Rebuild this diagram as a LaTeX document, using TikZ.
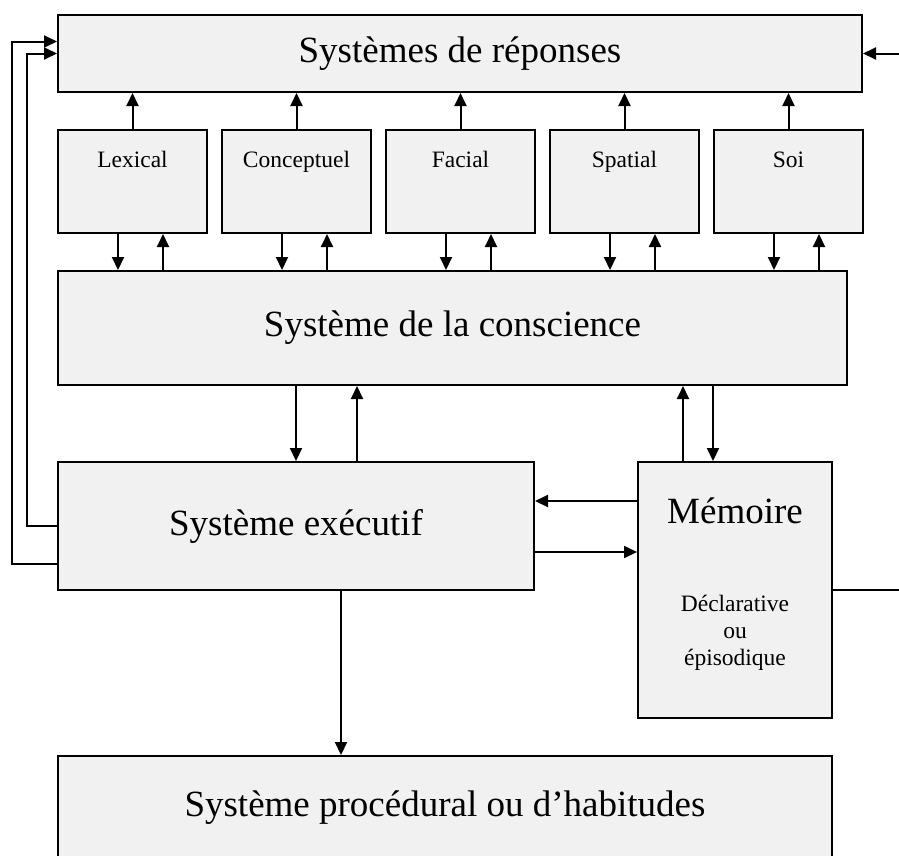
\documentclass[tikz,border=0pt]{standalone}
\usepackage{fontspec}
\setmainfont{Liberation Serif}
\usetikzlibrary{arrows.meta,positioning}

\definecolor{boxgray}{HTML}{F1F1F1}
\tikzset{
  box/.style={draw=black,line width=2pt,fill=boxgray,inner sep=0pt},
  link/.style={line width=2pt,-{Triangle[length=13pt,width=12pt]}},
  bigtxt/.style={font=\fontsize{37}{44}\selectfont},
  smalltxt/.style={font=\fontsize{23.5}{27}\selectfont},
}

\begin{document}
\begin{tikzpicture}[x=1pt,y=-1pt]
\clip (0,0) rectangle (899,855);
% response systems
\node[box,bigtxt,minimum width=804pt,minimum height=77pt] (resp) at (460,53.5) {Systèmes de réponses};
% modules
\foreach \name/\txt [count=\i] in {lex/Lexical,conc/Conceptuel,fac/Facial,spat/Spatial,soi/Soi}{
  \node[box,minimum width=149pt,minimum height=103pt] (\name) at ({132.5+164*(\i-1)},181.5) {};
  \node[smalltxt,anchor=base] (\name-txt) at ([yshift=-38pt]\name.north) {\txt};
}
% conscious awareness
\node[box,bigtxt,minimum width=789pt,minimum height=114pt] (consc) at (452.5,328) {Système de la conscience};
% executive, memory, procedural
\node[box,bigtxt,minimum width=476pt,minimum height=128pt] (exec) at (296,526) {Système exécutif};
\node[box,minimum width=194pt,minimum height=256pt] (mem) at (735,590) {};
\node[bigtxt,anchor=base] (mem-title) at ([yshift=-62pt]mem.north) {Mémoire};
\node[smalltxt,align=center] (mem-kind) at ([yshift=-172pt]mem.north) {Déclarative\\ou\\épisodique};
\node[box,bigtxt,minimum width=774pt,minimum height=104pt] (proc) at (445,808) {Système procédural ou d’habitudes};

% module links
\foreach \name in {lex,conc,fac,spat,soi}{
  \draw[link] (\name.north) -- (\name.north |- resp.south);
  \draw[link] ([xshift=-14.5pt]\name.south) -- ([xshift=-14.5pt]\name.south |- consc.north);
  \draw[link] ([xshift=30.5pt]\name.south |- consc.north) -- ([xshift=30.5pt]\name.south);
}
\draw[link] (consc.south -| exec.north) -- (exec.north);
\draw[link] ([xshift=61pt]exec.north) -- ([xshift=61pt]exec.north |- consc.south);
\draw[link] ([xshift=-52pt]mem.north) -- ([xshift=-52pt]mem.north |- consc.south);
\draw[link] ([xshift=-22pt]mem.north |- consc.south) -- ([xshift=-22pt]mem.north);
\draw[link] ([yshift=25pt]exec.east -| mem.west) -- ([yshift=25pt]exec.east);
\draw[link] ([yshift=-26pt]exec.east) -- ([yshift=-26pt]exec.east -| mem.west);
\draw[link] ([xshift=45pt]exec.south) -- ([xshift=45pt]exec.south |- proc.north);
% feedback to responses
\draw[link] (exec.west) -- ++(-30,0) |- (resp.west);
\draw[link] ([yshift=-38pt]exec.west) -- ++(-45,0) |- ([yshift=12pt]resp.west);
\coordinate (rin) at (899,53.5);
\draw[link] (rin) -- (resp.east);
\coordinate (mout) at (899,590);
\draw[line width=2pt] (mem.east) -- (mout);
\end{tikzpicture}
\end{document}
